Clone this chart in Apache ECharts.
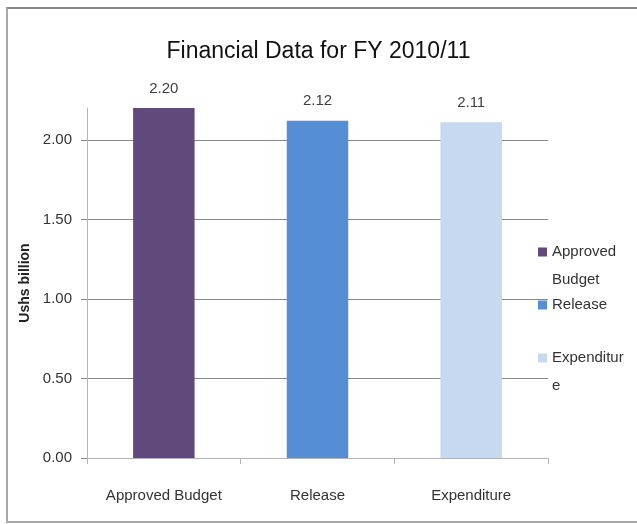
<!DOCTYPE html>
<html>
<head>
<meta charset="utf-8">
<script src="https://cdn.jsdelivr.net/npm/echarts@6/dist/echarts.min.js"></script>
<style>
  html, body { margin: 0; padding: 0; background: #fff; overflow: hidden; }
  #frame {
    position: absolute; left: 6px; top: 7px; width: 640px; height: 512px;
    border-top: 2px solid #8a8a8a; border-left: 2px solid #a8a8a8;
    border-bottom: 2px solid #a8a8a8;
  }
  #chart { position: absolute; left: 0; top: 0; width: 637px; height: 524px; }
</style>
</head>
<body>
<div id="frame"></div>
<div id="chart"></div>
<script>
// 数据
const categories = ['Approved Budget', 'Release', 'Expenditure']
const seriesNames = ['Approved Budget', 'Release', 'Expenditure']
const values = [2.20, 2.12, 2.11]
const barColors = ['#604a7b', '#558ed5', '#c6d9f1']
const yTicks = [0, 0.5, 1, 1.5, 2]

const font = '"Liberation Sans Narrow", "Liberation Sans", sans-serif'

const chart = echarts.init(document.getElementById('chart'))

// 每个系列只在自己的类别上有值，重叠到类别中心
const series = seriesNames.map((name, i) => ({
  name: name,
  type: 'bar',
  barWidth: '40%',
  barGap: '-100%',
  data: categories.map((c, j) => (j === i ? values[i] : '-')),
  itemStyle: { color: barColors[i] },
  label: {
    show: true,
    position: 'top',
    distance: 12,
    formatter: p => p.value.toFixed(2),
    color: '#404040',
    fontFamily: font,
    fontSize: 15,
  },
}))

// 图例文字换行；开头空一行，让图标对齐首行
const legendText = {
  'Approved Budget': '\nApproved\nBudget',
  'Release': 'Release',
  'Expenditure': '\nExpenditur\ne',
}

chart.setOption({
  animation: false,
  title: {
    text: 'Financial Data for FY 2010/11',
    left: 'center',
    top: 35,
    textStyle: { fontFamily: font, fontSize: 23, fontWeight: 'normal', color: '#111' },
  },
  legend: {
    orient: 'vertical',
    left: 533,
    top: 205,
    itemWidth: 9,
    itemHeight: 9,
    itemGap: -3,
    icon: 'rect',
    data: seriesNames,
    formatter: name => legendText[name],
    textStyle: { fontFamily: font, fontSize: 15, lineHeight: 28, color: '#333' },
  },
  grid: { left: 87, right: 89, top: 108, bottom: 66 },
  xAxis: {
    type: 'category',
    data: categories,
    axisLine: { lineStyle: { color: '#b4b4b4', width: 1 } },
    axisTick: { show: true, length: 6, lineStyle: { color: '#b4b4b4' } },
    axisLabel: { color: '#333', fontFamily: font, fontSize: 15, margin: 30 },
  },
  yAxis: {
    type: 'value',
    min: 0,
    max: 2.2,
    interval: 0.5,
    name: 'Ushs billion',
    nameLocation: 'middle',
    nameGap: 46,
    nameTextStyle: { fontFamily: font, fontSize: 14, fontWeight: 'bold', color: '#222' },
    axisLine: { show: true, lineStyle: { color: '#b4b4b4' } },
    axisTick: { show: true, length: 6, customValues: yTicks, lineStyle: { color: '#888' } },
    axisLabel: {
      customValues: yTicks,
      formatter: v => v.toFixed(2),
      color: '#333',
      fontFamily: font,
      fontSize: 15,
      margin: 15,
    },
    splitLine: {
      show: true,
      lineStyle: { color: ['#888', '#888', '#888', '#888', '#888', 'rgba(0,0,0,0)'], width: 1 },
    },
  },
  series: series,
})
</script>
</body>
</html>
